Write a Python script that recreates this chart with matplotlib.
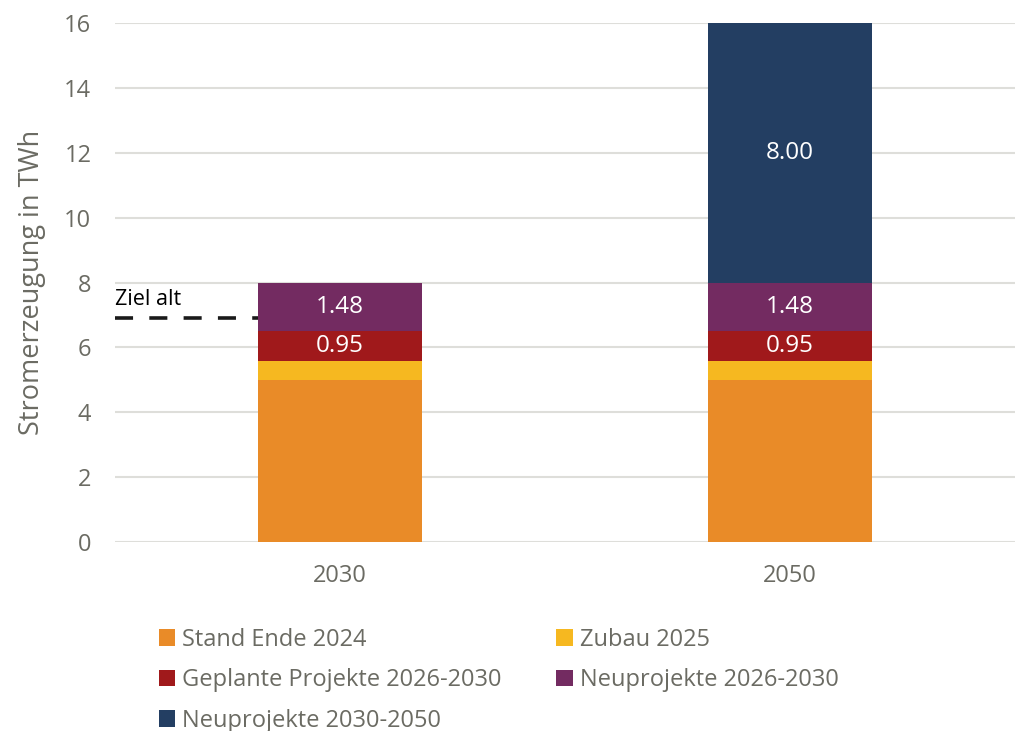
import matplotlib
matplotlib.use("Agg")
import matplotlib.pyplot as plt
from matplotlib.patches import Patch

plt.rcParams['font.family'] = ['Open Sans', 'DejaVu Sans']

years = ["2030", "2050"]
series_names = ["Stand Ende 2024", "Zubau 2025", "Geplante Projekte 2026-2030",
                "Neuprojekte 2026-2030", "Neuprojekte 2030-2050"]
stand_2024 = [5.0, 5.0]
zubau_2025 = [0.57, 0.57]
geplant_2026_2030 = [0.95, 0.95]
neu_2026_2030 = [1.48, 1.48]
neu_2030_2050 = [0.0, 8.00]
ziel_alt = 6.9

colors = ["#E98B28", "#F6B820", "#A0191B", "#732B61", "#233E62"]
tick_color = "#6B6B63"
grid_color = "#DEDEDA"
fs = 17

fig = plt.figure(figsize=(10.15, 7.31), dpi=100)
ax = fig.add_axes([115 / 1015, 189 / 731, 1 - 115 / 1015, 519 / 731])

x = range(len(years))
width = 0.364
bottom = [0.0, 0.0]
stacks = [stand_2024, zubau_2025, geplant_2026_2030, neu_2026_2030, neu_2030_2050]
show_label = [False, False, True, True, True]
for vals, col, name, lab in zip(stacks, colors, series_names, show_label):
    ax.bar(x, vals, width, bottom=bottom, color=col, label=name, zorder=3)
    if lab:
        for i, v in enumerate(vals):
            if v > 0:
                ax.text(i, bottom[i] + v / 2, f"{v:.2f}", ha="center", va="center",
                        color="white", fontsize=fs + 0.5, zorder=4)
    bottom = [b + v for b, v in zip(bottom, vals)]

# old target marker left of the first bar
ax.plot([-0.5, -width / 2], [ziel_alt, ziel_alt], color="#1a1a1a", lw=2.6,
        ls=(0, (5, 4.5)), zorder=4, clip_on=False)
ax.text(-0.5, ziel_alt + 0.25, "Ziel alt", ha="left", va="bottom",
        fontsize=fs - 1.5, color="black")

ax.set_xlim(-0.5, 1.5)
ax.set_ylim(0, 16)
ax.set_yticks(range(0, 17, 2))
ax.set_xticks(list(x))
ax.set_xticklabels(years)
ax.yaxis.grid(True, color=grid_color, lw=1.5, zorder=0)
ax.tick_params(axis="both", length=0, labelsize=fs, labelcolor=tick_color)
ax.tick_params(axis="y", pad=17)
ax.tick_params(axis="x", pad=16)
for s in ax.spines.values():
    s.set_visible(False)
ax.set_ylabel("Stromerzeugung in TWh", fontsize=19.5, color=tick_color, labelpad=13)

order = [0, 2, 4, 1, 3]
handles = [Patch(facecolor=colors[i]) for i in order]
labels = [series_names[i] for i in order]
leg = fig.legend(handles, labels, ncol=2, loc="upper left",
                 bbox_to_anchor=(147 / 1015, 1 - 616 / 731), frameon=False,
                 fontsize=fs, handlelength=0.7, handleheight=0.7,
                 handletextpad=0.3, columnspacing=2.3, labelspacing=0.7,
                 borderpad=0)
for t in leg.get_texts():
    t.set_color(tick_color)

fig.savefig("out.png", dpi=100)
